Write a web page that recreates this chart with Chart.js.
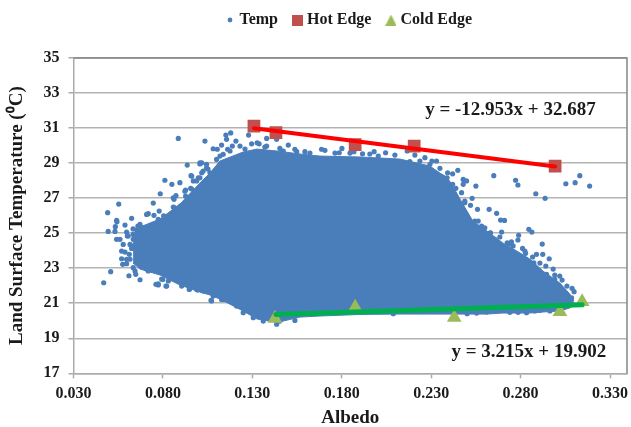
<!DOCTYPE html>
<html>
<head>
<meta charset="utf-8">
<title>Albedo vs Land Surface Temperature</title>
<script src="https://cdn.jsdelivr.net/npm/chart.js@4"></script>
<style>
    html, body { margin: 0; padding: 0; background: #fff; }
    canvas { display: block; filter: blur(0.45px); }
</style>
</head>
<body>
<canvas id="albedoChart" width="631" height="427"></canvas>
<script>
const xTickValues = [0.03, 0.08, 0.13, 0.18, 0.23, 0.28, 0.33];
const yTickValues = [17, 19, 21, 23, 25, 27, 29, 31, 33, 35];

// dense part of the Temp cloud, read as upper and lower edge at each albedo
const coreAlbedo = [0.0633, 0.0672, 0.0784, 0.0895, 0.1007, 0.1063, 0.1119, 0.1248, 0.1326, 0.1438, 0.1566, 0.1678, 0.1902, 0.2125, 0.2293, 0.2349, 0.2388, 0.2421, 0.2461, 0.2533, 0.2612, 0.2701, 0.2779, 0.2852, 0.2925, 0.3020, 0.3075, 0.3098];
const coreUpper = [24.84, 25.35, 25.81, 26.66, 27.86, 28.43, 29.12, 29.63, 29.80, 29.69, 29.52, 29.40, 29.35, 29.23, 28.83, 28.43, 28.20, 27.69, 26.95, 25.69, 25.12, 24.44, 23.98, 23.52, 22.84, 22.15, 21.53, 21.13];
const coreLower = [23.29, 22.95, 22.61, 22.04, 21.64, 21.47, 21.24, 20.56, 20.10, 19.90, 20.21, 20.27, 20.36, 20.38, 20.38, 20.38, 20.38, 20.38, 20.38, 20.38, 20.38, 20.44, 20.44, 20.44, 20.50, 20.56, 20.73, 20.90];

// loose Temp points around the dense part
const tempPoints = [
    [0.0886, 30.41], [0.0936, 28.89], [0.0957, 28.28], [0.0811, 28.02], [0.0850, 27.79], [0.0895, 27.88], [0.0970, 27.98], [0.0998, 28.16],
    [0.1007, 29.02], [0.0785, 27.25], [0.0927, 27.46], [0.0955, 27.56], [0.0979, 27.36], [0.0873, 27.14], [0.0862, 26.93], [0.0927, 27.12],
    [0.0553, 26.66], [0.0491, 26.17], [0.0746, 26.72], [0.0625, 25.85], [0.0718, 26.11], [0.0750, 26.02], [0.0779, 26.26], [0.0804, 25.99],
    [0.0858, 26.49], [0.0899, 26.55], [0.0862, 25.92], [0.0905, 25.98], [0.0933, 26.26], [0.0961, 26.65], [0.0989, 26.83], [0.0951, 25.88],
    [0.0541, 25.73], [0.0774, 25.79], [0.0543, 25.65], [0.0534, 25.37], [0.0494, 25.10], [0.0532, 25.10], [0.0588, 25.46], [0.0672, 25.50],
    [0.0700, 25.31], [0.0597, 25.06], [0.0653, 25.18], [0.0601, 24.84], [0.0541, 24.65], [0.0560, 24.65], [0.0634, 24.65], [0.0578, 24.36],
    [0.0616, 24.36], [0.0625, 24.13], [0.0662, 24.17], [0.0569, 23.98], [0.0588, 23.92], [0.0612, 23.79], [0.0653, 23.88], [0.0569, 23.54],
    [0.0597, 23.51], [0.0616, 23.51], [0.0575, 23.22], [0.0597, 23.26], [0.0634, 23.03], [0.0508, 22.80], [0.0469, 22.17], [0.0610, 22.57],
    [0.0648, 22.65], [0.0672, 22.34], [0.0644, 22.84], [0.0718, 22.84], [0.0761, 22.08], [0.0774, 22.04], [0.0799, 22.36], [0.0817, 21.98],
    [0.0830, 22.27], [0.0905, 21.98], [0.0947, 21.79], [0.0994, 21.75], [0.0746, 25.06], [0.0774, 25.31], [0.0634, 24.93], [0.0653, 24.55],
    [0.1035, 30.26], [0.1152, 30.60], [0.1179, 30.72], [0.1156, 30.36], [0.1208, 30.26], [0.1128, 30.03], [0.1081, 29.82], [0.1104, 29.79],
    [0.1162, 29.79], [0.1188, 29.97], [0.1231, 29.97], [0.1137, 29.50], [0.1119, 29.40], [0.1100, 29.21], [0.1052, 28.66], [0.1017, 29.02],
    [0.1044, 28.93], [0.1063, 28.45], [0.1025, 28.55], [0.1279, 30.60], [0.1296, 30.10], [0.1327, 30.16], [0.1338, 30.10], [0.1380, 30.41],
    [0.1436, 30.36], [0.1380, 29.97], [0.1454, 29.84], [0.1501, 30.03], [0.1473, 29.69], [0.1538, 29.79], [0.1548, 29.65], [0.1594, 29.65],
    [0.1687, 29.79], [0.1706, 29.73], [0.1801, 29.84], [0.1786, 29.59], [0.1868, 29.65], [0.1916, 29.53], [0.1981, 29.65], [0.2004, 29.40],
    [0.2045, 29.59], [0.2166, 29.69], [0.2265, 29.31], [0.2330, 29.12], [0.2293, 28.93], [0.2349, 28.70], [0.2392, 28.45], [0.2449, 28.59],
    [0.2420, 28.39], [0.2389, 28.16], [0.2395, 27.69], [0.2420, 27.79], [0.2438, 27.56], [0.2427, 26.83], [0.2432, 26.55], [0.2451, 26.26],
    [0.2451, 25.60], [0.2237, 29.12], [0.2181, 29.08], [0.2650, 28.28], [0.2772, 28.02], [0.2785, 27.75], [0.2885, 27.25], [0.2937, 26.99],
    [0.3053, 27.82], [0.3105, 27.88], [0.3131, 28.28], [0.3186, 27.69], [0.2550, 27.69], [0.2498, 27.98], [0.2479, 28.07], [0.2479, 27.79],
    [0.2470, 27.31], [0.2488, 26.83], [0.2529, 26.99], [0.2520, 26.59], [0.2559, 26.36], [0.2624, 26.36], [0.2666, 26.13], [0.2460, 26.42],
    [0.2688, 25.75], [0.2710, 25.73], [0.2846, 25.22], [0.2863, 25.06], [0.2789, 24.88], [0.2785, 24.61], [0.2921, 24.38], [0.2694, 25.06],
    [0.2632, 25.02], [0.2684, 24.78], [0.2600, 25.31], [0.2563, 25.69], [0.2544, 25.69], [0.2582, 25.41], [0.2470, 25.65], [0.2445, 25.73],
    [0.2749, 24.51], [0.2725, 24.45], [0.2758, 24.27], [0.2811, 24.13], [0.2828, 23.85], [0.2867, 23.64], [0.2889, 23.79], [0.2924, 23.79],
    [0.2960, 23.54], [0.2941, 23.12], [0.2982, 22.95], [0.2874, 23.31], [0.3019, 22.55], [0.3032, 22.32], [0.3059, 21.98], [0.3088, 21.85],
    [0.3099, 21.66], [0.2945, 22.65], [0.2991, 22.36], [0.3047, 21.60], [0.3085, 21.31], [0.2488, 26.74], [0.2460, 26.45], [0.2498, 25.98],
    [0.2656, 24.65], [0.2582, 24.93], [0.2501, 20.40], [0.2554, 20.44], [0.2610, 20.50], [0.2740, 20.48], [0.2786, 20.48], [0.2833, 20.46],
    [0.2880, 20.56], [0.2908, 20.60], [0.2964, 20.56], [0.2088, 20.40], [0.1454, 19.98], [0.1538, 20.02], [0.1436, 19.80], [0.1361, 19.98],
    [0.1305, 20.17], [0.1249, 20.46], [0.1212, 20.84], [0.1175, 21.13], [0.1069, 21.17], [0.1128, 21.22], [0.1091, 21.47], [0.1025, 21.70],
    [0.1007, 28.95], [0.1044, 28.73], [0.1017, 28.45], [0.0961, 28.26], [0.0989, 27.98], [0.1007, 28.16], [0.0923, 27.40], [0.0961, 27.52],
    [0.0998, 27.31], [0.1017, 26.93], [0.0951, 26.74], [0.0858, 27.02], [0.0867, 26.45], [0.0905, 26.55], [0.0951, 26.36], [0.0979, 26.55],
    [0.0905, 26.07], [0.0709, 26.07], [0.0660, 25.41], [0.0688, 25.31], [0.0737, 25.02], [0.0633, 25.24], [0.0606, 24.84], [0.0653, 24.66],
    [0.0625, 24.27], [0.0660, 24.38], [0.0690, 23.69], [0.0709, 22.95], [0.0774, 22.10], [0.0793, 22.38], [0.0821, 21.98], [0.0839, 22.38],
    [0.0951, 22.17], [0.0951, 21.83], [0.0989, 21.79], [0.1007, 22.17], [0.1072, 21.13], [0.1081, 21.41], [0.1137, 21.22], [0.1175, 21.41],
    [0.2516, 25.58], [0.2628, 25.01], [0.2740, 24.38], [0.2824, 23.98], [0.2908, 23.29], [0.2991, 22.61], [0.1175, 29.69], [0.1259, 29.80],
    [0.1370, 29.92], [0.1622, 29.57], [0.1762, 29.57], [0.1846, 29.57], [0.1957, 29.52], [0.2097, 29.46], [0.2209, 29.46], [0.2304, 29.12]
];

const hotEdgeAlbedo = [0.1309, 0.1432, 0.1875, 0.2205, 0.2993];
const hotEdgeTemp = [31.11, 30.74, 30.05, 29.97, 28.83];
const coldEdgeAlbedo = [0.1426, 0.1875, 0.2429, 0.3020, 0.3144];
const coldEdgeTemp = [20.13, 20.77, 20.19, 20.52, 21.09];

const hotFitAlbedo = [0.1309, 0.2993];
const hotFitTemp = [30.99, 28.81];
const coldFitAlbedo = [0.1432, 0.3144];
const coldFitTemp = [20.36, 20.91];

const legendNames = ['Temp', 'Hot Edge', 'Cold Edge'];
const equations = [
    { text: 'y = -12.953x + 32.687', x: 0.2743, y: 32.03 },
    { text: 'y = 3.215x + 19.902', x: 0.2846, y: 18.22 }
];

const serif = '"Liberation Serif", "Times New Roman", serif';
const blue = '#4a7ebb';
const inkColor = '#1a1a1a';

function toPoints(xs, ys) {
    return xs.map((x, i) => ({ x: x, y: ys[i] }));
}

// small canvases so the legend symbols can differ in size
function legendSymbol(kind) {
    let c = document.createElement('canvas');
    let g = c.getContext('2d');
    if (kind === 'dot') {
        c.width = 6; c.height = 6;
        g.fillStyle = blue;
        g.arc(3, 3, 2.4, 0, Math.PI * 2);
    } else if (kind === 'square') {
        c.width = 11; c.height = 11;
        g.fillStyle = '#c0504d';
        g.rect(0, 0, 11, 11);
    } else {
        c.width = 11; c.height = 11;
        g.fillStyle = '#9bbb59';
        g.moveTo(5.5, 0); g.lineTo(11, 11); g.lineTo(0, 11); g.closePath();
    }
    g.fill();
    return c;
}
const legendSymbols = { 'Temp': legendSymbol('dot'), 'Hot Edge': legendSymbol('square'), 'Cold Edge': legendSymbol('triangle') };

const legendGap = {
    id: 'legendGap',
    beforeInit(chart) {
        let fit = chart.legend.fit;
        chart.legend.fit = function() {
            fit.call(this);
            this.height += 20;
        };
    }
};

const plotFrame = {
    id: 'plotFrame',
    beforeDatasetsDraw(chart) {
        let a = chart.chartArea;
        let ctx = chart.ctx;
        ctx.save();
        ctx.strokeStyle = '#858585';
        ctx.lineWidth = 1.5;
        ctx.beginPath();
        ctx.moveTo(a.left, a.top);
        ctx.lineTo(a.right, a.top);
        ctx.lineTo(a.right, a.bottom);
        ctx.stroke();
        ctx.restore();
    }
};

const equationLabels = {
    id: 'equationLabels',
    afterDatasetsDraw(chart) {
        let ctx = chart.ctx;
        ctx.save();
        ctx.font = 'bold 19px ' + serif;
        ctx.fillStyle = inkColor;
        ctx.textAlign = 'center';
        ctx.textBaseline = 'middle';
        equations.forEach(eq => {
            ctx.fillText(eq.text, chart.scales.x.getPixelForValue(eq.x), chart.scales.y.getPixelForValue(eq.y));
        });
        ctx.restore();
    }
};

new Chart(document.getElementById('albedoChart'), {
    type: 'scatter',
    plugins: [legendGap, plotFrame, equationLabels],
    data: {
        datasets: [
            {
                label: 'Temp',
                data: tempPoints.map(p => ({ x: p[0], y: p[1] })),
                backgroundColor: blue,
                borderColor: blue,
                pointRadius: 2.6,
                borderWidth: 0,
                order: 5
            },
            {
                label: 'Hot Edge',
                data: toPoints(hotEdgeAlbedo, hotEdgeTemp),
                pointStyle: 'rect',
                pointRadius: 9,
                backgroundColor: '#c0504d',
                borderColor: '#c0504d',
                borderWidth: 0,
                order: 3
            },
            {
                label: 'Cold Edge',
                data: toPoints(coldEdgeAlbedo, coldEdgeTemp),
                pointStyle: 'triangle',
                pointRadius: 8.5,
                backgroundColor: '#9bbb59',
                borderColor: '#9bbb59',
                borderWidth: 0,
                order: 3
            },
            {
                type: 'line',
                label: 'core upper',
                data: toPoints(coreAlbedo, coreUpper),
                borderColor: blue,
                borderWidth: 1,
                backgroundColor: blue,
                pointRadius: 0,
                fill: '+1',
                order: 6
            },
            {
                type: 'line',
                label: 'core lower',
                data: toPoints(coreAlbedo, coreLower),
                borderColor: blue,
                borderWidth: 1,
                pointRadius: 0,
                fill: false,
                order: 6
            },
            {
                type: 'line',
                label: 'hot fit',
                data: toPoints(hotFitAlbedo, hotFitTemp),
                borderColor: '#ff0000',
                borderWidth: 4,
                borderCapStyle: 'round',
                pointRadius: 0,
                fill: false,
                order: 1
            },
            {
                type: 'line',
                label: 'cold fit',
                data: toPoints(coldFitAlbedo, coldFitTemp),
                borderColor: '#00b050',
                borderWidth: 5,
                borderCapStyle: 'round',
                pointRadius: 0,
                fill: false,
                order: 1
            }
        ]
    },
    options: {
        responsive: false,
        animation: false,
        layout: { autoPadding: false, padding: { top: -6, left: 0, right: 4, bottom: 0 } },
        plugins: {
            tooltip: { enabled: false },
            legend: {
                position: 'top',
                fullSize: false,
                labels: {
                    color: inkColor,
                    font: { family: serif, size: 16, weight: 'bold' },
                    usePointStyle: true,
                    boxWidth: 3,
                    padding: 18,
                    filter: item => legendNames.includes(item.text),
                    sort: (a, b) => legendNames.indexOf(a.text) - legendNames.indexOf(b.text),
                    generateLabels(chart) {
                        let items = Chart.defaults.plugins.legend.labels.generateLabels(chart);
                        items.forEach(item => { item.pointStyle = legendSymbols[item.text]; });
                        return items;
                    }
                }
            }
        },
        scales: {
            x: {
                type: 'linear',
                min: 0.03,
                max: 0.3395,
                afterFit(scale) {
                    scale.height = 53.7;
                    scale.paddingLeft = 0;
                    scale.paddingRight = 0;
                },
                afterBuildTicks(scale) { scale.ticks = xTickValues.map(v => ({ value: v })); },
                grid: { drawOnChartArea: false, tickLength: 5, tickColor: '#ababab', tickWidth: 1.5 },
                border: { color: '#ababab', width: 1.5 },
                ticks: {
                    color: inkColor,
                    padding: 6,
                    maxRotation: 0,
                    autoSkip: false,
                    font: { family: serif, size: 16, weight: 'bold' },
                    callback: v => v.toFixed(3)
                },
                title: {
                    display: true,
                    text: 'Albedo',
                    color: inkColor,
                    font: { family: serif, size: 19, weight: 'bold' },
                    padding: { top: 0, bottom: -2 }
                }
            },
            y: {
                min: 17,
                max: 35,
                afterFit(scale) { scale.width = 73.5; },
                afterBuildTicks(scale) { scale.ticks = yTickValues.map(v => ({ value: v })); },
                grid: { color: '#b3b3b3', lineWidth: 1.5, tickLength: 5, tickColor: '#ababab' },
                border: { color: '#ababab', width: 1.5 },
                ticks: {
                    color: inkColor,
                    padding: 9,
                    autoSkip: false,
                    font: { family: serif, size: 16, weight: 'bold' }
                },
                title: {
                    display: true,
                    text: 'Land Surface Temperature (\u2070C)',
                    color: inkColor,
                    font: { family: serif, size: 19, weight: 'bold' },
                    padding: { top: 6, bottom: 0 }
                }
            }
        }
    }
});
</script>
</body>
</html>
